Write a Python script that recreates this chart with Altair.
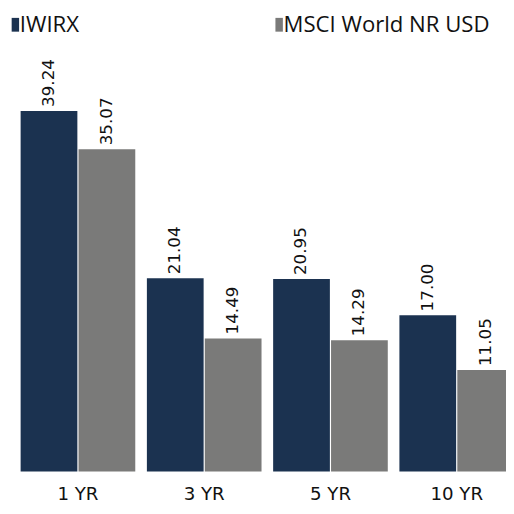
import altair as alt
import pandas as pd

categories = ["1 YR", "3 YR", "5 YR", "10 YR"]
series = ["IWIRX", "MSCI World NR USD"]
iwirx = [39.24, 21.04, 20.95, 17.00]
msci = [35.07, 14.49, 14.29, 11.05]
colors = ["#1B3250", "#7A7A79"]

rows = []
for i, c in enumerate(categories):
    rows.append({"period": c, "series": series[0], "value": iwirx[i], "label": f"{iwirx[i]:.2f}"})
    rows.append({"period": c, "series": series[1], "value": msci[i], "label": f"{msci[i]:.2f}"})
df = pd.DataFrame(rows)
legend_df = pd.DataFrame({"series": series})

color_enc = alt.Color("series:N", sort=series,
                      scale=alt.Scale(domain=series, range=colors), legend=None)

x_enc = alt.X("period:N", sort=categories, title=None,
              scale=alt.Scale(range=[0, 527], paddingInner=0.092, paddingOuter=0.1),
              axis=alt.Axis(labelAngle=0, domain=False, ticks=False, labelPadding=13,
                            labelFont="DejaVu Sans", labelFontSize=18.5, labelColor="#111111"))
xo_enc = alt.XOffset("series:N", sort=series, scale=alt.Scale(paddingInner=0.02))
y_enc = alt.Y("value:Q", scale=alt.Scale(domain=[0, 50]), axis=None)

bars = alt.Chart(df).mark_bar().encode(x=x_enc, xOffset=xo_enc, y=y_enc, color=color_enc)

labels = alt.Chart(df).mark_text(angle=270, align="left", baseline="middle", dx=4,
                                 font="DejaVu Sans", fontSize=17, color="#111111").encode(
    x=x_enc, xOffset=xo_enc, y=y_enc, text="label:N",
)

leg_x = alt.X("series:N", sort=series, title=None, axis=None,
              scale=alt.Scale(type="point", domain=series, range=[7.5, 275.5], padding=0))

leg_sym = alt.Chart(legend_df).mark_point(
    shape="M-0.54,-1L0.54,-1L0.54,1L-0.54,1Z", size=196, filled=True, opacity=1, strokeWidth=0
).encode(x=leg_x, y=alt.value(13), color=color_enc)

leg_txt = alt.Chart(legend_df).mark_text(
    align="left", baseline="alphabetic", dx=4.5, font="Open Sans", fontSize=22.5, color="#111111"
).encode(x=leg_x, y=alt.value(20), text="series:N")

chart = alt.layer(
    alt.layer(bars, labels),
    alt.layer(leg_sym, leg_txt),
).resolve_scale(x="independent").properties(
    width=506, height=467,
    autosize=alt.AutoSizeParams(type="none"),
    padding={"left": 0, "top": 0, "right": 0, "bottom": 36},
).configure_view(stroke=None)

chart.save("out.html", embed_options={"renderer": "svg", "actions": False})
